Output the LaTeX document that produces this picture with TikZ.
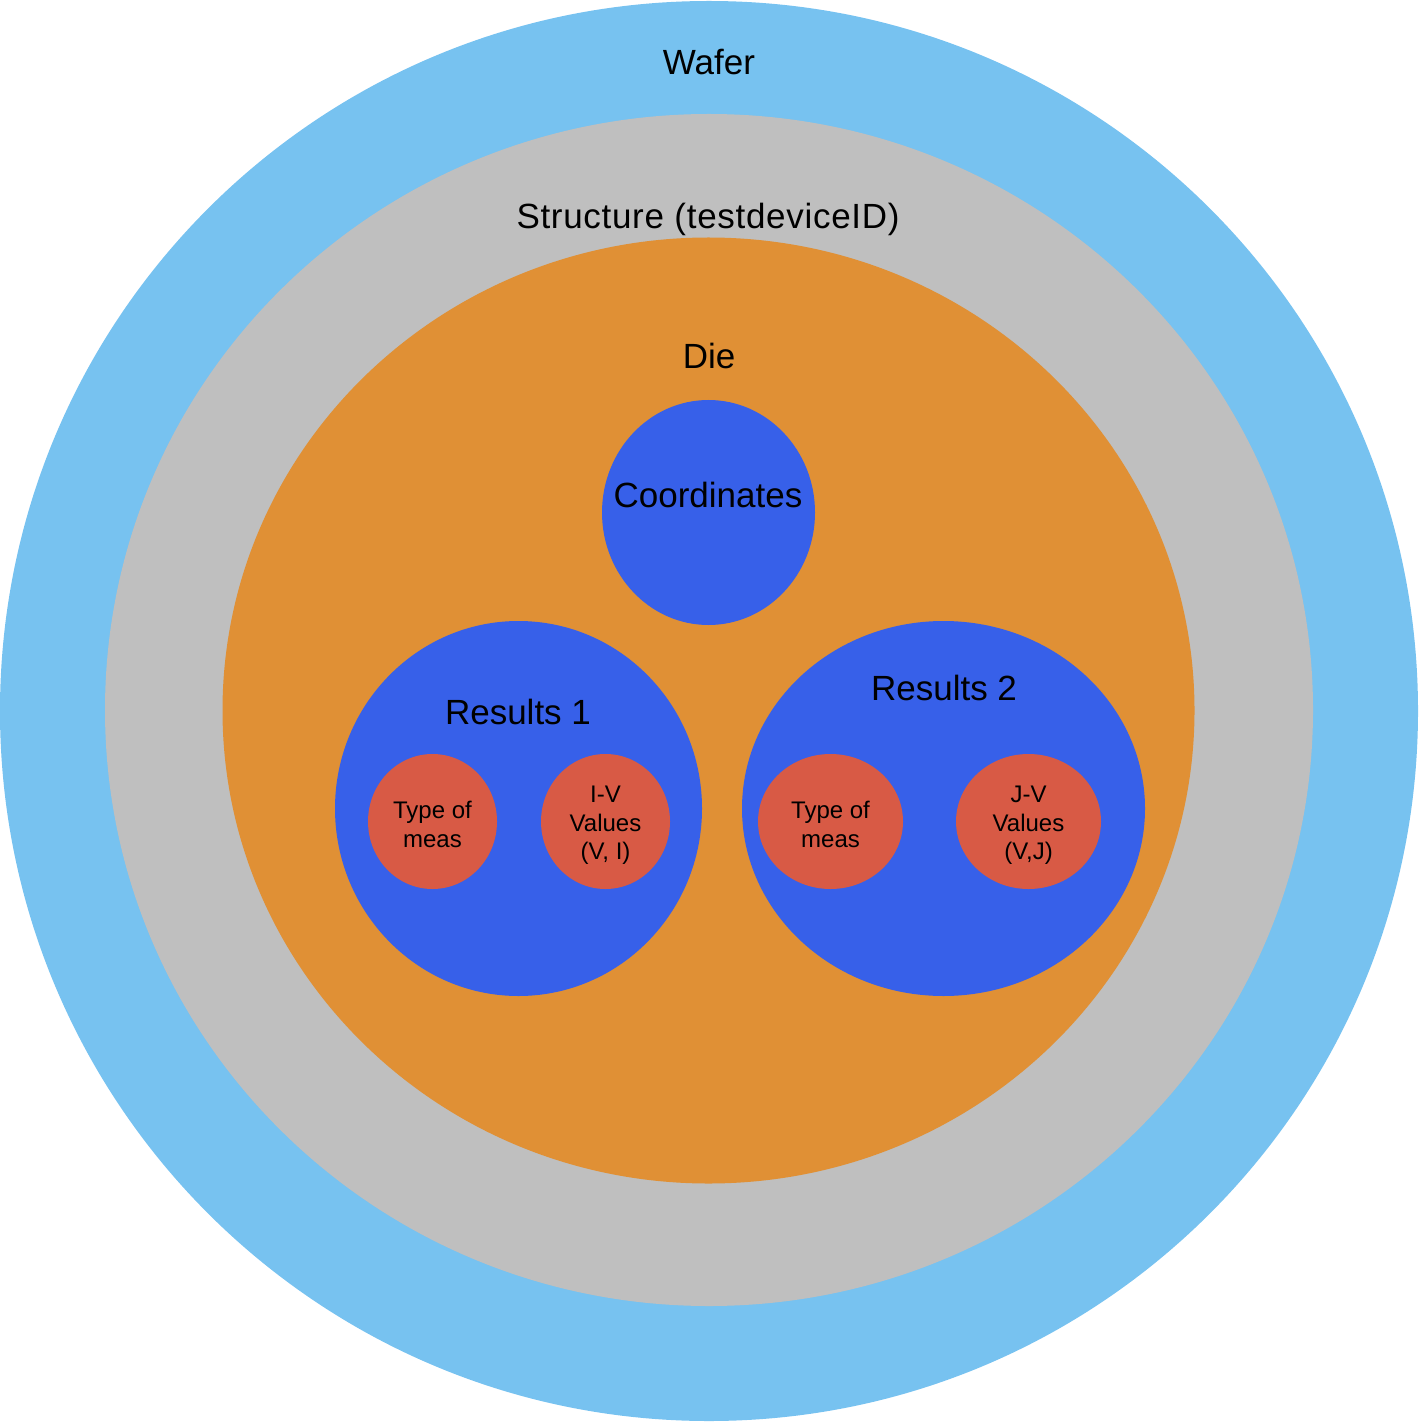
\documentclass[tikz,border=0pt]{standalone}
\usepackage{fontspec}
\setmainfont{Liberation Sans}
\usetikzlibrary{shapes.geometric}
\definecolor{waferblue}{RGB}{119,194,240}
\definecolor{structgray}{RGB}{191,191,191}
\definecolor{dieorange}{RGB}{224,144,53}
\definecolor{resblue}{RGB}{55,96,233}
\definecolor{measred}{RGB}{216,90,69}
\tikzset{
  blob/.style={ellipse, inner sep=0pt, draw=none},
  bigtxt/.style={black, inner sep=0pt, font=\fontsize{17.5}{21}\selectfont},
  smalltxt/.style={black, inner sep=0pt, align=center, font=\fontsize{12}{14.2}\selectfont},
}
\begin{document}
\begin{tikzpicture}[x=0.5pt, y=-0.5pt]
    \useasboundingbox (0,0) rectangle (1420,1422);
    % nested levels
    \node[blob, fill=waferblue, minimum width=709pt, minimum height=710pt] (wafer) at (709,711) {};
    \node[blob, fill=structgray, minimum width=604pt, minimum height=596pt] (structure) at (709,710) {};
    \node[blob, fill=dieorange, minimum width=486pt, minimum height=473pt] (die) at (708.5,710.5) {};
    \node[blob, fill=resblue, minimum width=106.5pt, minimum height=112.5pt] (coords) at (708.5,512.5) {};
    \node[blob, fill=resblue, minimum width=183.5pt, minimum height=187.5pt] (res1) at (518.5,808.5) {};
    \node[blob, fill=resblue, minimum width=201.5pt, minimum height=187.5pt] (res2) at (943.5,808.5) {};
    \node[blob, fill=measred, minimum width=64.5pt, minimum height=67.5pt] (type1) at (432.5,821.5) {};
    \node[blob, fill=measred, minimum width=64.5pt, minimum height=67.5pt] (iv) at (605.5,821.5) {};
    \node[blob, fill=measred, minimum width=72.5pt, minimum height=67.5pt] (type2) at (830.5,821.5) {};
    \node[blob, fill=measred, minimum width=72.5pt, minimum height=67.5pt] (jv) at (1028.5,821.5) {};
    % labels
    \node[bigtxt] (wafertxt) at (709,62) {Wafer};
    \node[bigtxt] (structtxt) at (708,219) {\addfontfeature{LetterSpace=2}Structure (testdeviceID)};
    \node[bigtxt] (dietxt) at (709,356) {Die};
    \node[bigtxt] (coordtxt) at (708,495) {Coordinates};
    \node[bigtxt] (res1txt) at (518,712) {Results 1};
    \node[bigtxt] (res2txt) at (944,688) {Results 2};
    \node[smalltxt] (type1txt) at ([yshift=-1.5pt]type1.center) {Type of\\meas};
    \node[smalltxt] (ivtxt) at ([yshift=-2pt]iv.center) {I-V\\Values\\(V, I)};
    \node[smalltxt] (type2txt) at ([yshift=-1.5pt]type2.center) {Type of\\meas};
    \node[smalltxt] (jvtxt) at ([yshift=-2pt]jv.center) {J-V\\Values\\(V,J)};
\end{tikzpicture}
\end{document}
